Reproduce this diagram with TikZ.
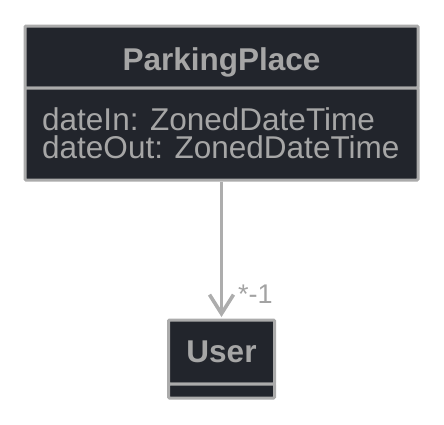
\documentclass[tikz,border=0pt]{standalone}
\usepackage{fontspec}
\setmainfont{Liberation Sans}
\usetikzlibrary{arrows.meta}
\definecolor{boxfill}{HTML}{22252C}
\definecolor{boxline}{HTML}{ABABAB}
\definecolor{boxtext}{HTML}{A6A6A6}
\definecolor{linkgray}{HTML}{ADADAD}
\definecolor{multgray}{HTML}{A3A3A3}

\begin{document}
\begin{tikzpicture}[
    x=1pt, y=1pt,
    class box/.style={draw=boxline, fill=boxfill, line width=3pt,
        rounded corners=1pt, inner sep=0pt, minimum width=#1},
    class name/.style={font=\fontsize{31.5}{31.5}\selectfont\bfseries,
        text=boxtext, anchor=base, inner sep=0pt},
    attr text/.style={font=\fontsize{31.5}{28}\selectfont, text=boxtext,
        anchor=base west, inner sep=0pt},
    link/.style={draw=linkgray, line width=3pt,
        -{Straight Barb[length=19pt, width=24pt, line width=3.6pt]}},
    mult label/.style={font=\fontsize{27}{27}\selectfont, text=multgray,
        anchor=base west, inner sep=0pt},
]
\useasboundingbox (0,0) rectangle (444,-424);

% ══════════════════════════════════════════════════════════════════════
%  DIMENSIONS
% ══════════════════════════════════════════════════════════════════════
\def\cx{221.5}                          % common centre line
\def\ppW{393pt}  \def\userW{106pt}

% ── ParkingPlace ──────────────────────────────────────────────────────
\node[class box=\ppW, minimum height=62pt] (pphead) at (\cx,-57) {};
\node[class box=\ppW, minimum height=92pt] (ppbody) at (\cx,-134) {};
\node[class name] (ppname) at (\cx,-70) {ParkingPlace};
\node[attr text] (ppdatein)  at (42,-130) {dateIn: ZonedDateTime};
\node[attr text] (ppdateout) at (42,-158) {dateOut: ZonedDateTime};

% ── User ──────────────────────────────────────────────────────────────
\node[class box=\userW, minimum height=64pt] (userhead) at (\cx,-352) {};
\node[class box=\userW, minimum height=14pt] (userbody) at (\cx,-391) {};
\node[class name] (username) at (\cx,-362) {User};

% ── Association ───────────────────────────────────────────────────────
\draw[link] (ppbody.south) -- ([yshift=1.5pt]userhead.north);
\node[mult label] (usermult) at (238,-303) {*-1};

\end{tikzpicture}
\end{document}
